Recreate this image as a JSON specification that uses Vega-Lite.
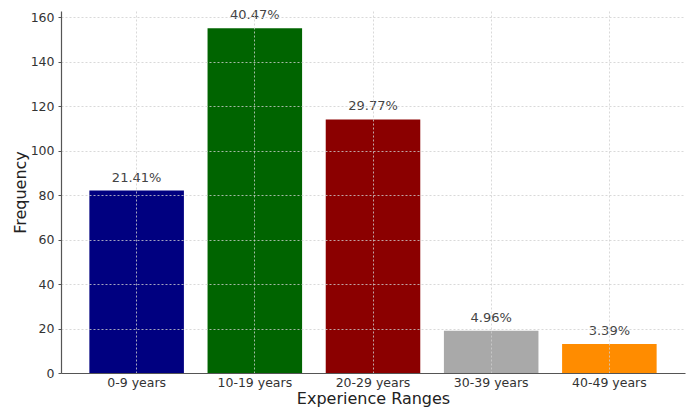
{
  "$schema": "https://vega.github.io/schema/vega-lite/v6.json",
  "autosize": "none",
  "width": 624,
  "height": 362,
  "padding": {"left": 61, "top": 11, "right": 4, "bottom": 35},
  "background": "white",
  "config": {
    "font": "DejaVu Sans",
    "view": {"stroke": null},
    "axis": {
      "labelFont": "DejaVu Sans",
      "titleFont": "DejaVu Sans",
      "labelColor": "#333333",
      "titleColor": "#222222",
      "titleFontWeight": "normal",
      "domainColor": "#555555",
      "domainWidth": 1.2,
      "gridColor": "#cfcfcf",
      "gridDash": [2, 2],
      "gridWidth": 0.8
    }
  },
  "data": {
    "values": [
      {"range": "0-9 years", "count": 82, "pct": "21.41%", "color": "#000080"},
      {"range": "10-19 years", "count": 155, "pct": "40.47%", "color": "#006400"},
      {"range": "20-29 years", "count": 114, "pct": "29.77%", "color": "#8B0000"},
      {"range": "30-39 years", "count": 19, "pct": "4.96%", "color": "#A9A9A9"},
      {"range": "40-49 years", "count": 13, "pct": "3.39%", "color": "#FF8C00"}
    ]
  },
  "encoding": {
    "x": {
      "field": "range",
      "type": "nominal",
      "sort": null,
      "scale": {"paddingInner": 0.2, "paddingOuter": 0.24},
      "axis": {
        "title": "Experience Ranges",
        "titleFontSize": 16,
        "titlePadding": 2,
        "labelFontSize": 12.5,
        "labelAngle": 0,
        "labelPadding": 3,
        "ticks": false,
        "grid": true,
        "zindex": 1
      }
    },
    "y": {
      "field": "count",
      "type": "quantitative",
      "scale": {"domain": [0, 162.75], "nice": false},
      "axis": {
        "title": "Frequency",
        "titleFontSize": 16,
        "titlePadding": 2,
        "labelFontSize": 12.5,
        "labelPadding": 4,
        "values": [0, 20, 40, 60, 80, 100, 120, 140, 160],
        "tickSize": 3,
        "tickColor": "#555555",
        "grid": true,
        "zindex": 1
      }
    }
  },
  "layer": [
    {
      "mark": {"type": "bar"},
      "encoding": {
        "color": {"field": "color", "type": "nominal", "scale": null}
      }
    },
    {
      "mark": {
        "type": "text",
        "baseline": "bottom",
        "dy": -6,
        "fontSize": 13,
        "color": "#444444"
      },
      "encoding": {
        "text": {"field": "pct", "type": "nominal"}
      }
    }
  ]
}
